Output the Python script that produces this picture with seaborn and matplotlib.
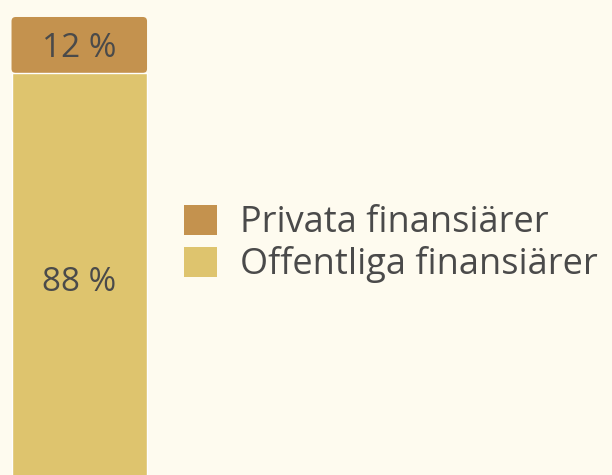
import matplotlib
matplotlib.use("Agg")
import matplotlib.pyplot as plt
import seaborn as sns
from matplotlib.patches import Patch, FancyBboxPatch

# Data
categories = ["Privata finansiärer", "Offentliga finansiärer"]
shares = [12, 88]
colors = ["#C4924E", "#DEC46E"]
bg = "#FEFBEF"
text_color = "#4A4A4A"

sns.set_style("white")
plt.rcParams["font.family"] = ["Open Sans", "DejaVu Sans"]

total = sum(shares)

fig = plt.figure(figsize=(6.12, 4.75), dpi=100, facecolor=bg)
ax = fig.add_axes([0, 0, 1, 1])
ax.set_facecolor(bg)

# stacked: full height in private colour, public share drawn over it
sns.barplot(x=["Alla"], y=[total], color=colors[0], width=0.8, ax=ax, saturation=1)
sns.barplot(x=["Alla"], y=[shares[1]], color=colors[1], width=0.8, ax=ax, saturation=1)

# round the top corners of the top segment
top = ax.patches[0]
x0, w, h = top.get_x(), top.get_width(), top.get_height()
top.set_visible(False)
rounded = FancyBboxPatch((x0, shares[1]), w, h - shares[1],
                         boxstyle="round,pad=0,rounding_size=0.025",
                         mutation_aspect=36, facecolor=colors[0], edgecolor="none")
ax.add_patch(rounded)
ax.patches[1].set_zorder(3)

# labels
ax.text(0, shares[1] + shares[0] / 2, f"{shares[0]} %", ha="center", va="center_baseline",
        fontsize=24, color=text_color, zorder=4)
ax.text(0, shares[1] / 2, f"{shares[1]} %", ha="center", va="center_baseline",
        fontsize=24, color=text_color, zorder=4)

ax.set_xlim(-0.468, 3.145)
ax.set_ylim(1.86, 103.64)
ax.axis("off")

handles = [Patch(facecolor=c, edgecolor="none") for c in colors]
leg = fig.legend(handles, categories, loc="center left", bbox_to_anchor=(184 / 612, 1 - 244 / 475),
                 frameon=False, handlelength=0.92, handleheight=0.92,
                 handletextpad=0.62, labelspacing=0.14, borderpad=0, borderaxespad=0,
                 prop={"size": 26})
for t in leg.get_texts():
    t.set_color(text_color)

fig.savefig("out.png", dpi=100, facecolor=bg)
